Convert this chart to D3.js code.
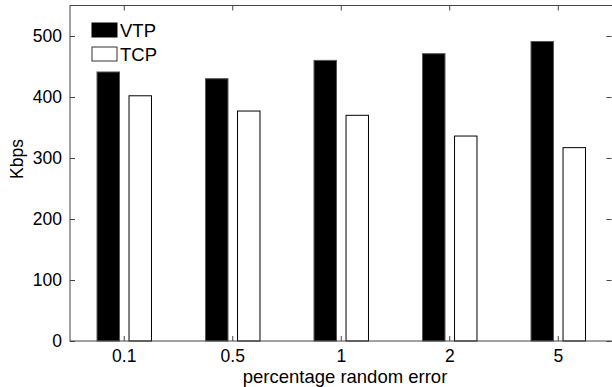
<!DOCTYPE html>
<html>
<head>
<meta charset="utf-8">
<script src="https://cdn.jsdelivr.net/npm/d3@7"></script>
<style>
  html, body { margin: 0; padding: 0; background: #fff; }
  svg { display: block; }
  text { font-family: "Liberation Sans", Arial, Helvetica, sans-serif; fill: #000; }
</style>
</head>
<body>
<svg id="chart" width="612" height="387"></svg>
<script>
const categories = ["0.1", "0.5", "1", "2", "5"];
const vtpValues = [441, 430, 460, 471, 491];
const tcpValues = [402, 377, 370, 336, 317];
const seriesNames = ["VTP", "TCP"];
const yTicks = [0, 100, 200, 300, 400, 500];

(function () {
const svg = d3.select("#chart");
const mLeft = 70, mRight = 612.5, mTop = 5.5, mBottom = 341;

const x = d3.scaleBand().domain(categories).range([mLeft, mRight]).paddingInner(0).paddingOuter(0);
const y = d3.scaleLinear().domain([0, 550]).range([mBottom, mTop]);
const bw = x.bandwidth();
const barW = bw * 0.207;
const offset = bw * 0.1475;

const series = [
  { name: seriesNames[0], values: vtpValues, fill: "#000", stroke: "#555", dx: -offset },
  { name: seriesNames[1], values: tcpValues, fill: "#fff", stroke: "#000", dx: offset }
];

// bars
series.forEach(s => {
  svg.append("g").selectAll("rect").data(categories).join("rect")
    .attr("x", (c) => x(c) + bw / 2 + s.dx - barW / 2)
    .attr("width", barW)
    .attr("y", (c, i) => y(s.values[i]))
    .attr("height", (c, i) => y(0) - y(s.values[i]))
    .attr("fill", s.fill)
    .attr("stroke", s.stroke)
    .attr("stroke-width", 1);
});

// frame
svg.append("rect")
  .attr("x", mLeft).attr("y", mTop)
  .attr("width", mRight - mLeft).attr("height", mBottom - mTop)
  .attr("fill", "none").attr("stroke", "#444").attr("stroke-width", 1);

const tickLen = 5;
const axisColor = "#444";
const xBottom = d3.axisBottom(x).tickSizeInner(-tickLen).tickSizeOuter(0).tickPadding(9);
const gxb = svg.append("g").attr("transform", `translate(0,${mBottom})`).call(xBottom);
const xTop = d3.axisTop(x).tickSizeInner(-tickLen).tickSizeOuter(0).tickFormat("");
const gxt = svg.append("g").attr("transform", `translate(0,${mTop})`).call(xTop);
const yLeft = d3.axisLeft(y).tickValues(yTicks).tickSizeInner(-tickLen).tickSizeOuter(0).tickPadding(8);
const gyl = svg.append("g").attr("transform", `translate(${mLeft},0)`).call(yLeft);
const yRight = d3.axisRight(y).tickValues(yTicks).tickSizeInner(-tickLen).tickSizeOuter(0).tickFormat("");
const gyr = svg.append("g").attr("transform", `translate(${mRight - 1},0)`).call(yRight);

[gxb, gxt, gyl, gyr].forEach(g => {
  g.select(".domain").remove();
  g.selectAll(".tick line").attr("stroke", axisColor);
  g.selectAll(".tick text").attr("font-size", 17.5).attr("fill", "#000")
    .style("font-family", "'Liberation Sans', Arial, sans-serif");
});

// axis labels
svg.append("text")
  .attr("x", 345).attr("y", 383)
  .attr("text-anchor", "middle").attr("font-size", 18.5)
  .text("percentage random error");

svg.append("text")
  .attr("transform", "translate(23,159) rotate(-90)")
  .attr("text-anchor", "middle").attr("font-size", 17.5)
  .text("Kbps");

// legend
const legend = svg.append("g");
series.forEach((s, i) => {
  const ly = 23 + i * 24;
  legend.append("rect")
    .attr("x", 92).attr("y", ly)
    .attr("width", 25).attr("height", 14)
    .attr("fill", s.fill).attr("stroke", i === 0 ? "#000" : "#333").attr("stroke-width", 1);
  legend.append("text")
    .attr("x", 120).attr("y", ly + 14)
    .attr("font-size", 18.5)
    .text(s.name);
});
})();
</script>
</body>
</html>
